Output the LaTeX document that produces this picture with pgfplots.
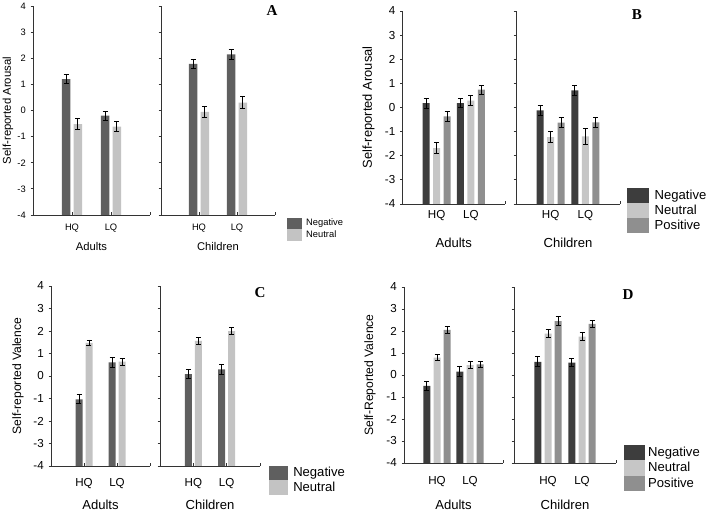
\documentclass[border=0pt]{standalone}
\usepackage{fontspec}
\setmainfont{Liberation Sans}
\newfontfamily\letterfont{Liberation Serif}
\usepackage{pgfplots}
\pgfplotsset{compat=1.18}
\newlength\px \setlength\px{0.75pt}

\definecolor{negA}{HTML}{5F5F5F}
\definecolor{neuA}{HTML}{C3C3C3}
\definecolor{negB}{HTML}{3D3D3D}
\definecolor{neuB}{HTML}{C6C6C6}
\definecolor{posB}{HTML}{8F8F8F}

\newcommand\fs[1]{\fontsize{#1}{#1}\selectfont}

\pgfplotsset{
  base/.style={
    scale only axis, ybar,
    xmin=0, xmax=3, ymin=-4, ymax=4,
    y coord trafo/.code={\pgfmathparse{##1+4}},
    y coord inv trafo/.code={\pgfmathparse{##1-4}},
    axis x line*=bottom, axis y line*=left,
    axis line style={-, black!80, line width=0.6pt},
    xtick={1,2,3}, xticklabels={HQ,LQ,{}},
    ytick={-4,-3,-2,-1,0,1,2,3,4},
    xtick align=inside, ytick align=outside,
    major tick length=2.5\px,
    tick style={black!80, line width=0.6pt},
    xticklabel style={anchor=center},
    xlabel style={anchor=center},
    ylabel style={anchor=center},
    error bars/error bar style={black, line width=0.7pt},
    error bars/error mark options={black, line width=0.7pt, mark size=2.5\px, rotate=90},
    legend style={draw=none, fill=none, inner sep=0pt, row sep=0pt,
      nodes={inner sep=0pt}, cells={anchor=west}},
  },
  nums/.style={yticklabels={-4,-3,-2,-1,0,1,2,3,4}},
  nonums/.style={yticklabels={}},
}

\begin{document}
\begin{tikzpicture}
\useasboundingbox (0pt,0pt) rectangle (709\px,513\px);

% ---------------- A ----------------
\begin{axis}[base, nums, at={(33\px,298\px)}, anchor=south west,
  width=117\px, height=209\px, bar width=8.5\px,
  ticklabel style={font=\fs{7pt}},
  xticklabel style={yshift=-13\px},
  ylabel={Self-reported Arousal}, ylabel style={font=\fs{8.5pt}, at={(axis description cs:-0.214,0.5)}},
  xlabel={Adults}, xlabel style={font=\fs{8.4pt}, at={(axis description cs:0.5,-0.153)}}]
\addplot[fill=negA, draw=none, bar shift=-5.8\px, error bars/.cd, y dir=both, y explicit]
  coordinates {(1,1.2) +- (0,0.17) (2,-0.2) +- (0,0.17)};
\addplot[fill=neuA, draw=none, bar shift=5.8\px, error bars/.cd, y dir=both, y explicit]
  coordinates {(1,-0.52) +- (0,0.21) (2,-0.62) +- (0,0.2)};
\end{axis}
\begin{axis}[base, nonums, at={(161\px,298\px)}, anchor=south west,
  width=114\px, height=209\px, bar width=8.5\px,
  ticklabel style={font=\fs{7pt}},
  xticklabel style={yshift=-13\px},
  xlabel={Children}, xlabel style={font=\fs{8.4pt}, at={(axis description cs:0.5,-0.153)}},
  legend style={font=\fs{7pt}, column sep=4\px, at={(axis description cs:1.105,-0.012)}, anchor=north west},
  legend image code/.code={\path (0pt,-5.75\px) rectangle (15\px,5.75\px);
    \fill[#1] (0pt,-5.25\px) rectangle (15\px,5.25\px);}]
\addplot[fill=negA, draw=none, bar shift=-5.8\px, error bars/.cd, y dir=both, y explicit]
  coordinates {(1,1.78) +- (0,0.18) (2,2.15) +- (0,0.19)};
\addplot[fill=neuA, draw=none, bar shift=5.8\px, error bars/.cd, y dir=both, y explicit]
  coordinates {(1,-0.05) +- (0,0.2) (2,0.3) +- (0,0.22)};
\legend{Negative,Neutral}
\end{axis}
\node[font=\letterfont\bfseries\fs{11.3pt}] at (272\px,502\px) {A};

% ---------------- B ----------------
\begin{axis}[base, nums, at={(402.5\px,309\px)}, anchor=south west,
  width=102.5\px, height=193\px, bar width=7\px,
  ticklabel style={font=\fs{8.7pt}},
  xticklabel style={yshift=-12\px},
  ylabel={Self-reported Arousal}, ylabel style={font=\fs{9.7pt}, at={(axis description cs:-0.332,0.5)}},
  xlabel={Adults}, xlabel style={font=\fs{9.8pt}, at={(axis description cs:0.5,-0.202)}}]
\addplot[fill=negB, draw=none, bar shift=-10.5\px, error bars/.cd, y dir=both, y explicit]
  coordinates {(1,0.18) +- (0,0.2) (2,0.18) +- (0,0.18)};
\addplot[fill=neuB, draw=none, bar shift=0pt, error bars/.cd, y dir=both, y explicit]
  coordinates {(1,-1.68) +- (0,0.21) (2,0.29) +- (0,0.21)};
\addplot[fill=posB, draw=none, bar shift=10.5\px, error bars/.cd, y dir=both, y explicit]
  coordinates {(1,-0.37) +- (0,0.21) (2,0.74) +- (0,0.19)};
\end{axis}
\begin{axis}[base, nonums, at={(516\px,309\px)}, anchor=south west,
  width=104\px, height=193\px, bar width=7\px,
  ticklabel style={font=\fs{8.7pt}},
  xticklabel style={yshift=-12\px},
  xlabel={Children}, xlabel style={font=\fs{9.8pt}, at={(axis description cs:0.5,-0.202)}},
  legend style={font=\fs{9.8pt}, column sep=6\px, at={(axis description cs:1.067,0.085)}, anchor=north west},
  legend image code/.code={\path (0pt,-7.5\px) rectangle (21.5\px,7.5\px);
    \fill[#1] (0pt,-7\px) rectangle (21.5\px,7\px);}]
\addplot[fill=negB, draw=none, bar shift=-10.5\px, error bars/.cd, y dir=both, y explicit]
  coordinates {(1,-0.12) +- (0,0.21) (2,0.71) +- (0,0.21)};
\addplot[fill=neuB, draw=none, bar shift=0pt, error bars/.cd, y dir=both, y explicit]
  coordinates {(1,-1.23) +- (0,0.23) (2,-1.2) +- (0,0.33)};
\addplot[fill=posB, draw=none, bar shift=10.5\px, error bars/.cd, y dir=both, y explicit]
  coordinates {(1,-0.63) +- (0,0.21) (2,-0.62) +- (0,0.21)};
\legend{Negative,Neutral,Positive}
\end{axis}
\node[font=\letterfont\bfseries\fs{11.3pt}] at (637\px,498\px) {B};

% ---------------- C ----------------
\begin{axis}[base, nums, at={(51\px,47\px)}, anchor=south west,
  width=99\px, height=180\px, bar width=7\px,
  ticklabel style={font=\fs{8.7pt}},
  xticklabel style={yshift=-18\px},
  ylabel={Self-reported Valence}, ylabel style={font=\fs{9.1pt}, at={(axis description cs:-0.333,0.5)}},
  xlabel={Adults}, xlabel style={font=\fs{9.8pt}, at={(axis description cs:0.5,-0.217)}}]
\addplot[fill=negA, draw=none, bar shift=-5\px, error bars/.cd, y dir=both, y explicit]
  coordinates {(1,-1.04) +- (0,0.2) (2,0.6) +- (0,0.21)};
\addplot[fill=neuA, draw=none, bar shift=5\px, error bars/.cd, y dir=both, y explicit]
  coordinates {(1,1.47) +- (0,0.13) (2,0.64) +- (0,0.15)};
\end{axis}
\begin{axis}[base, nonums, at={(160\px,47\px)}, anchor=south west,
  width=100\px, height=180\px, bar width=7\px,
  ticklabel style={font=\fs{8.7pt}},
  xticklabel style={yshift=-18\px},
  xlabel={Children}, xlabel style={font=\fs{9.8pt}, at={(axis description cs:0.5,-0.217)}},
  legend style={font=\fs{9.8pt}, column sep=5\px, at={(axis description cs:1.09,0.003)}, anchor=north west},
  legend image code/.code={\path (0pt,-7.25\px) rectangle (19\px,7.25\px);
    \fill[#1] (0pt,-6.5\px) rectangle (19\px,6.5\px);}]
\addplot[fill=negA, draw=none, bar shift=-5\px, error bars/.cd, y dir=both, y explicit]
  coordinates {(1,0.08) +- (0,0.21) (2,0.29) +- (0,0.24)};
\addplot[fill=neuA, draw=none, bar shift=5\px, error bars/.cd, y dir=both, y explicit]
  coordinates {(1,1.56) +- (0,0.16) (2,1.99) +- (0,0.16)};
\legend{Negative,Neutral}
\end{axis}
\node[font=\letterfont\bfseries\fs{11.3pt}] at (260\px,220\px) {C};

% ---------------- D ----------------
\begin{axis}[base, nums, at={(404\px,50\px)}, anchor=south west,
  width=99\px, height=176\px, bar width=7\px,
  ticklabel style={font=\fs{8.7pt}},
  xticklabel style={yshift=-19\px},
  ylabel={Self-Reported Valence}, ylabel style={font=\fs{9.1pt}, at={(axis description cs:-0.343,0.5)}},
  xlabel={Adults}, xlabel style={font=\fs{9.8pt}, at={(axis description cs:0.5,-0.239)}}]
\addplot[fill=negB, draw=none, bar shift=-10.2\px, error bars/.cd, y dir=both, y explicit]
  coordinates {(1,-0.5) +- (0,0.2) (2,0.15) +- (0,0.22)};
\addplot[fill=neuB, draw=none, bar shift=0pt, error bars/.cd, y dir=both, y explicit]
  coordinates {(1,0.79) +- (0,0.15) (2,0.45) +- (0,0.17)};
\addplot[fill=posB, draw=none, bar shift=10.2\px, error bars/.cd, y dir=both, y explicit]
  coordinates {(1,2.05) +- (0,0.15) (2,0.48) +- (0,0.15)};
\end{axis}
\begin{axis}[base, nonums, at={(514\px,50\px)}, anchor=south west,
  width=102\px, height=176\px, bar width=7\px,
  ticklabel style={font=\fs{8.7pt}},
  xticklabel style={yshift=-19\px},
  xlabel={Children}, xlabel style={font=\fs{9.8pt}, at={(axis description cs:0.5,-0.239)}},
  legend style={font=\fs{9.8pt}, column sep=3\px, at={(axis description cs:1.078,0.105)}, anchor=north west},
  legend image code/.code={\path (0pt,-7.75\px) rectangle (21\px,7.75\px);
    \fill[#1] (0pt,-7.25\px) rectangle (21\px,7.25\px);}]
\addplot[fill=negB, draw=none, bar shift=-10.2\px, error bars/.cd, y dir=both, y explicit]
  coordinates {(1,0.6) +- (0,0.22) (2,0.56) +- (0,0.19)};
\addplot[fill=neuB, draw=none, bar shift=0pt, error bars/.cd, y dir=both, y explicit]
  coordinates {(1,1.88) +- (0,0.18) (2,1.74) +- (0,0.19)};
\addplot[fill=posB, draw=none, bar shift=10.2\px, error bars/.cd, y dir=both, y explicit]
  coordinates {(1,2.45) +- (0,0.19) (2,2.32) +- (0,0.17)};
\legend{Negative,Neutral,Positive}
\end{axis}
\node[font=\letterfont\bfseries\fs{11.3pt}] at (628\px,218\px) {D};
\end{tikzpicture}
\end{document}
